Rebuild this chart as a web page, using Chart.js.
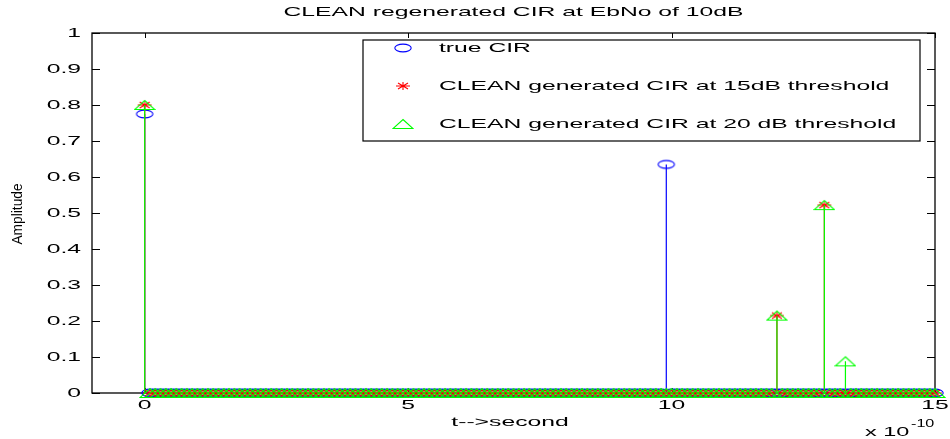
<!DOCTYPE html>
<html>
<head>
<meta charset="utf-8">
<script src="https://cdn.jsdelivr.net/npm/chart.js@4/dist/chart.umd.min.js"></script>
<style>
  html, body { margin: 0; padding: 0; background: #fff; }
  canvas { display: block; }
</style>
</head>
<body>
<canvas id="cir" width="950" height="439"></canvas>
<script>
// Sample grid of the channel impulse response (units of 1e-10 s)
const tStart = 0;
const tEnd = 15;
const tStep = 0.1;

// Non-zero taps of each response
const trueCirTimes = [0, 9.9];
const trueCirAmps = [0.775, 0.635];

const clean15Times = [0, 12, 12.9];
const clean15Amps = [0.80, 0.215, 0.522];

const clean20Times = [0, 12, 12.9, 13.3];
const clean20Amps = [0.80, 0.215, 0.522, 0.088];

// Axis ticks
const xTicks = [0, 5, 10, 15];
const yTicks = [0, 0.1, 0.2, 0.3, 0.4, 0.5, 0.6, 0.7, 0.8, 0.9, 1];
const yTickLabels = ['0', '0.1', '0.2', '0.3', '0.4', '0.5', '0.6', '0.7', '0.8', '0.9', '1'];

const seriesNames = ['true CIR', 'CLEAN generated CIR at 15dB threshold', 'CLEAN generated CIR at 20 dB threshold'];
const titleText = 'CLEAN regenerated CIR at EbNo of 10dB';
const xLabelText = 't-->second';
const yLabelText = 'Amplitude';

const BLUE = '#0000ff', RED = '#ff0000', GREEN = '#00ff00';
const FONT = '"Liberation Sans", Arial, Helvetica, sans-serif';
const SX = 1.9; // horizontal stretch of the text

const sampleTimes = [];
for (let i = 0; tStart + i * tStep <= tEnd + 1e-9; i++) {
  sampleTimes.push(Math.round((tStart + i * tStep) * 1000) / 1000);
}

function sampled(times, amps) {
  return sampleTimes.map(t => {
    const k = times.findIndex(v => Math.abs(v - t) < 1e-9);
    return { x: t, y: k >= 0 ? amps[k] : 0 };
  });
}
function stemLines(times, amps) {
  const pts = [];
  times.forEach((t, i) => { pts.push({ x: t, y: 0 }, { x: t, y: amps[i] }, { x: t, y: null }); });
  return pts;
}

// Marker glyphs (wide, as the plot is stretched horizontally)
function makeMarker(kind) {
  const c = document.createElement('canvas');
  c.width = 22; c.height = 12;
  const g = c.getContext('2d');
  g.lineWidth = 1.1;
  const cx = 11, cy = 6;
  if (kind === 'circle') {
    g.strokeStyle = BLUE;
    g.beginPath(); g.ellipse(cx, cy, 8.2, 3.9, 0, 0, Math.PI * 2); g.stroke();
  } else if (kind === 'star') {
    g.strokeStyle = RED;
    g.beginPath();
    g.moveTo(cx - 7, cy); g.lineTo(cx + 7, cy);
    g.moveTo(cx, cy - 4); g.lineTo(cx, cy + 4);
    g.moveTo(cx - 5, cy - 3); g.lineTo(cx + 5, cy + 3);
    g.moveTo(cx - 5, cy + 3); g.lineTo(cx + 5, cy - 3);
    g.stroke();
  } else {
    g.strokeStyle = GREEN;
    g.beginPath();
    g.moveTo(cx, cy - 4.5); g.lineTo(cx + 10, cy + 4.5); g.lineTo(cx - 10, cy + 4.5); g.closePath();
    g.stroke();
  }
  return c;
}
const markCircle = makeMarker('circle');
const markStar = makeMarker('star');
const markTri = makeMarker('tri');

function stretchText(ctx, str, x, y, align, px, sx) {
  ctx.save();
  ctx.font = px + 'px ' + FONT;
  ctx.textBaseline = 'middle';
  ctx.textAlign = 'left';
  const w = ctx.measureText(str).width * sx;
  const left = align === 'center' ? x - w / 2 : (align === 'right' ? x - w : x);
  ctx.translate(left, y);
  ctx.scale(sx, 1);
  ctx.fillStyle = '#000';
  ctx.fillText(str, 0, 0);
  ctx.restore();
}

const framePlugin = {
  id: 'matlabFrame',
  beforeDatasetsDraw(chart) {
    const { ctx, chartArea: a, scales: { x, y } } = chart;
    ctx.save();
    ctx.strokeStyle = '#000';
    ctx.lineWidth = 1.3;
    ctx.strokeRect(a.left, a.top, a.right - a.left, a.bottom - a.top);
    ctx.lineWidth = 1;
    ctx.beginPath();
    xTicks.forEach(v => {
      const px = Math.round(x.getPixelForValue(v)) + 0.5;
      ctx.moveTo(px, a.bottom); ctx.lineTo(px, a.bottom - 5);
      ctx.moveTo(px, a.top); ctx.lineTo(px, a.top + 5);
    });
    yTicks.forEach(v => {
      const py = Math.round(y.getPixelForValue(v)) + 0.5;
      ctx.moveTo(a.left, py); ctx.lineTo(a.left + 8, py);
      ctx.moveTo(a.right, py); ctx.lineTo(a.right - 8, py);
    });
    ctx.stroke();
    ctx.restore();
  },
  afterDraw(chart) {
    const { ctx, chartArea: a, scales: { x, y } } = chart;
    // tick labels
    yTicks.forEach((v, i) => stretchText(ctx, yTickLabels[i], a.left - 11, y.getPixelForValue(v), 'right', 13, SX));
    xTicks.forEach(v => stretchText(ctx, String(v), x.getPixelForValue(v), a.bottom + 12, 'center', 13, SX));
    // exponent
    stretchText(ctx, 'x 10', 865, 432, 'left', 13, SX * 0.95);
    stretchText(ctx, '-10', 911, 424, 'left', 10, SX * 0.85);
    // title and axis labels
    stretchText(ctx, titleText, (a.left + a.right) / 2, 12, 'center', 13, SX);
    stretchText(ctx, xLabelText, 510, 422, 'center', 13, SX);
    ctx.save();
    ctx.font = '11px ' + FONT;
    ctx.textBaseline = 'middle';
    ctx.textAlign = 'center';
    ctx.fillStyle = '#000';
    ctx.translate(18, 214);
    ctx.rotate(-Math.PI / 2);
    ctx.scale(1.25, 1.35);
    ctx.fillText(yLabelText, 0, 0);
    ctx.restore();
    // legend
    const L = { left: 363, top: 40, right: 920, bottom: 141 };
    ctx.save();
    ctx.fillStyle = '#fff';
    ctx.fillRect(L.left, L.top, L.right - L.left, L.bottom - L.top);
    ctx.strokeStyle = '#000';
    ctx.lineWidth = 1.2;
    ctx.strokeRect(L.left, L.top, L.right - L.left, L.bottom - L.top);
    const rows = [48, 86, 124];
    const marks = [markCircle, markStar, markTri];
    rows.forEach((ry, i) => {
      ctx.drawImage(marks[i], 403 - marks[i].width / 2, ry - marks[i].height / 2);
      stretchText(ctx, seriesNames[i], 439, ry, 'left', 13, SX);
    });
    ctx.restore();
  }
};

function stemSet(times, amps, color, order) {
  return {
    data: stemLines(times, amps), showLine: true, spanGaps: false,
    borderColor: color, borderWidth: 1.2, pointRadius: 0, order: order, clip: false
  };
}
function markSet(times, amps, img, order) {
  return {
    data: sampled(times, amps), showLine: false,
    pointStyle: img, pointRadius: 6, order: order, clip: false
  };
}

new Chart(document.getElementById('cir'), {
  type: 'scatter',
  data: {
    datasets: [
      stemSet(trueCirTimes, trueCirAmps, BLUE, 6),
      markSet(trueCirTimes, trueCirAmps, markCircle, 5),
      stemSet(clean15Times, clean15Amps, RED, 4),
      markSet(clean15Times, clean15Amps, markStar, 3),
      stemSet(clean20Times, clean20Amps, GREEN, 2),
      markSet(clean20Times, clean20Amps, markTri, 1)
    ]
  },
  options: {
    responsive: false,
    animation: false,
    devicePixelRatio: 1,
    events: [],
    layout: { padding: { left: 92, right: 15, top: 33, bottom: 46 } },
    scales: {
      x: { type: 'linear', min: -1, max: 15, display: false },
      y: { type: 'linear', min: 0, max: 1, display: false }
    },
    plugins: { legend: { display: false }, title: { display: false }, tooltip: { enabled: false } }
  },
  plugins: [framePlugin]
});
</script>
</body>
</html>
